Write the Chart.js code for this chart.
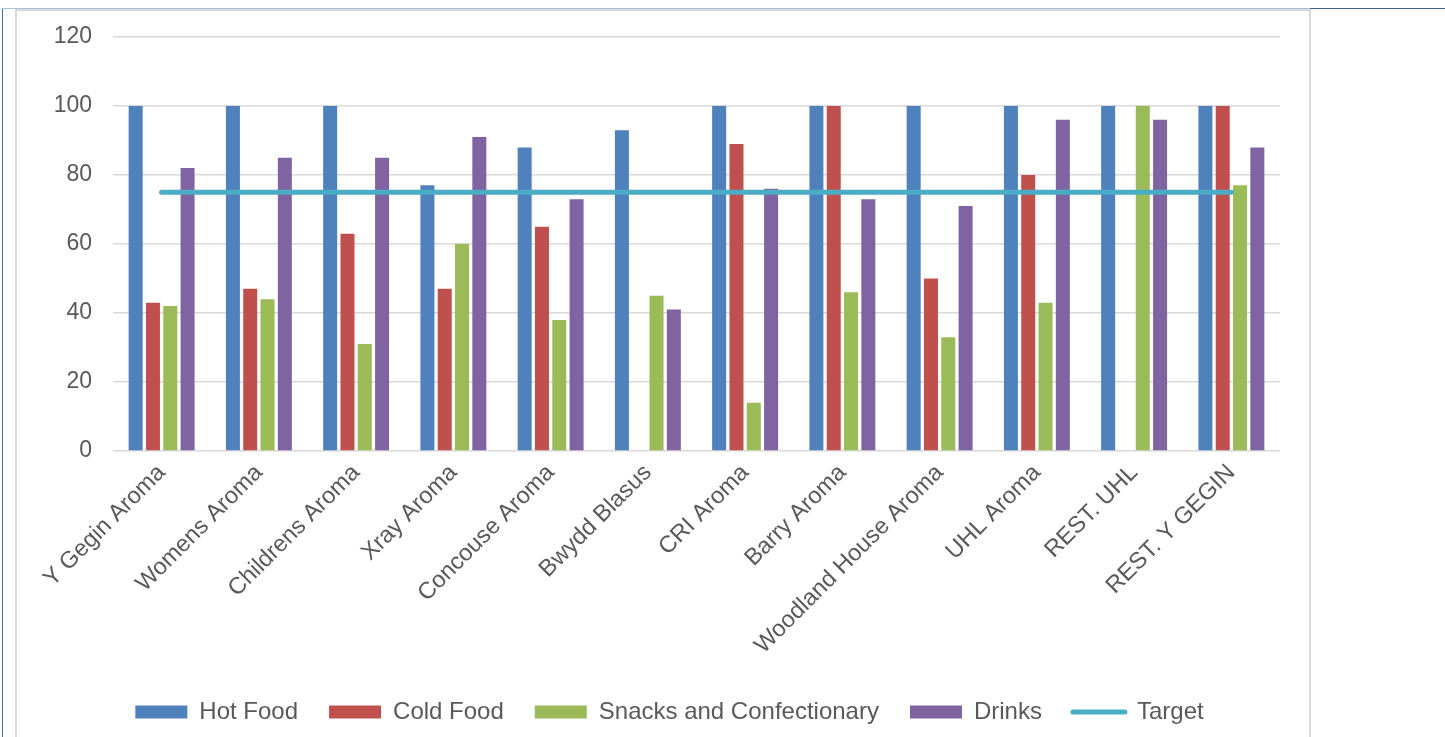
<!DOCTYPE html>
<html>
<head>
<meta charset="utf-8">
<script src="https://cdn.jsdelivr.net/npm/chart.js@4/dist/chart.umd.min.js"></script>
<style>
  html, body { margin: 0; padding: 0; background: #ffffff; overflow: hidden; width: 1445px; height: 737px; }
  .edge-left { position: absolute; left: 2px; top: 8px; width: 1px; height: 740px; background: #4a6fa5; }
  .edge-top-a { position: absolute; left: 2px; top: 8px; width: 1308px; height: 1px; background: #a9c0dc; }
  .edge-top-b { position: absolute; left: 1310px; top: 8px; width: 135px; height: 1px; background: #3f6198; }
  .frame { position: absolute; left: 15px; top: 9px; width: 1292px; height: 760px; border: 2px solid #d9d9d9; border-bottom: none; background: #fff; }
  canvas { position: absolute; left: 0; top: 0; }
</style>
</head>
<body>
<div class="edge-left"></div>
<div class="edge-top-a"></div>
<div class="edge-top-b"></div>
<div class="frame">
  <canvas id="chart" width="1292" height="740"></canvas>
</div>
<script>
// Outlets and their scores per product group
const categories = [
  'Y Gegin Aroma', 'Womens Aroma', 'Childrens Aroma', 'Xray Aroma', 'Concouse Aroma',
  'Bwydd Blasus', 'CRI Aroma', 'Barry Aroma', 'Woodland House Aroma', 'UHL Aroma',
  'REST. UHL', 'REST. Y GEGIN'
];
const hotFood   = [100, 100, 100, 77, 88, 93, 100, 100, 100, 100, 100, 100];
const coldFood  = [43, 47, 63, 47, 65, null, 89, 100, 50, 80, null, 100];
const snacks    = [42, 44, 31, 60, 38, 45, 14, 46, 33, 43, 100, 77];
const drinks    = [82, 85, 85, 91, 73, 41, 76, 73, 71, 96, 96, 88];
const target    = [75, 75, 75, 75, 75, 75, 75, 75, 75, 75, 75, 75];
const yTicks    = [0, 20, 40, 60, 80, 100, 120];

const textColor = '#595959';
const gridColor = '#d9d9d9';
Chart.defaults.font.family = "'Liberation Sans', Arial, sans-serif";
Chart.defaults.color = textColor;

function barSet(label, data, color) {
  return {
    type: 'bar', label, data,
    backgroundColor: color, borderWidth: 0,
    categoryPercentage: 0.712, barPercentage: 0.81,
    order: 2
  };
}

const datasets = [
  barSet('Hot Food', hotFood, '#4f81bd'),
  barSet('Cold Food', coldFood, '#c0504d'),
  barSet('Snacks and Confectionary', snacks, '#9bbb59'),
  barSet('Drinks', drinks, '#8064a2'),
  {
    type: 'line', label: 'Target', data: target,
    borderColor: '#4bacc6', backgroundColor: '#4bacc6',
    borderWidth: 5, borderCapStyle: 'round',
    pointRadius: 0, pointHoverRadius: 0, fill: false,
    order: 1
  }
];

// Nudge the legend row slightly right of the canvas centre
const legendShift = {
  id: 'legendShift',
  afterLayout(chart) {
    const lg = chart.legend;
    if (lg) { lg.left += 21; lg.right += 21; }
  }
};

new Chart(document.getElementById('chart'), {
  data: { labels: categories, datasets },
  plugins: [legendShift],
  options: {
    responsive: false,
    devicePixelRatio: 1,
    animation: false,
    layout: { padding: { left: 0, right: 29, top: 26, bottom: 17 } },
    plugins: {
      tooltip: { enabled: false },
      legend: {
        position: 'bottom',
        labels: {
          usePointStyle: true,
          pointStyleWidth: 52,
          boxHeight: 13,
          padding: 31,
          color: textColor,
          font: { size: 24 },
          sort: (a, b) => a.datasetIndex - b.datasetIndex,
          generateLabels: (chart) => chart.data.datasets.map((ds, i) => {
            const isLine = ds.type === 'line';
            return {
              text: ds.label,
              datasetIndex: i,
              fillStyle: isLine ? 'transparent' : ds.backgroundColor,
              strokeStyle: isLine ? ds.borderColor : ds.backgroundColor,
              lineWidth: isLine ? 5 : 0,
              lineCap: 'round',
              pointStyle: isLine ? 'line' : 'rect',
              fontColor: textColor,
              hidden: false
            };
          })
        }
      }
    },
    scales: {
      x: {
        grid: { display: false },
        border: { display: false },
        ticks: {
          autoSkip: false, maxRotation: 45, minRotation: 45,
          font: { size: 23.5 }, color: textColor, padding: 0
        },
        afterFit: (scale) => { scale.height = 218; }
      },
      y: {
        min: 0, max: 120,
        afterBuildTicks: (scale) => { scale.ticks = yTicks.map(v => ({ value: v })); },
        grid: { color: gridColor, lineWidth: 1.6, drawTicks: false },
        border: { display: false },
        ticks: { font: { size: 23 }, color: textColor, padding: 21 },
        afterFit: (scale) => { scale.width = 96; scale.paddingTop = 0; scale.paddingBottom = 0; }
      }
    }
  }
});
</script>
</body>
</html>
